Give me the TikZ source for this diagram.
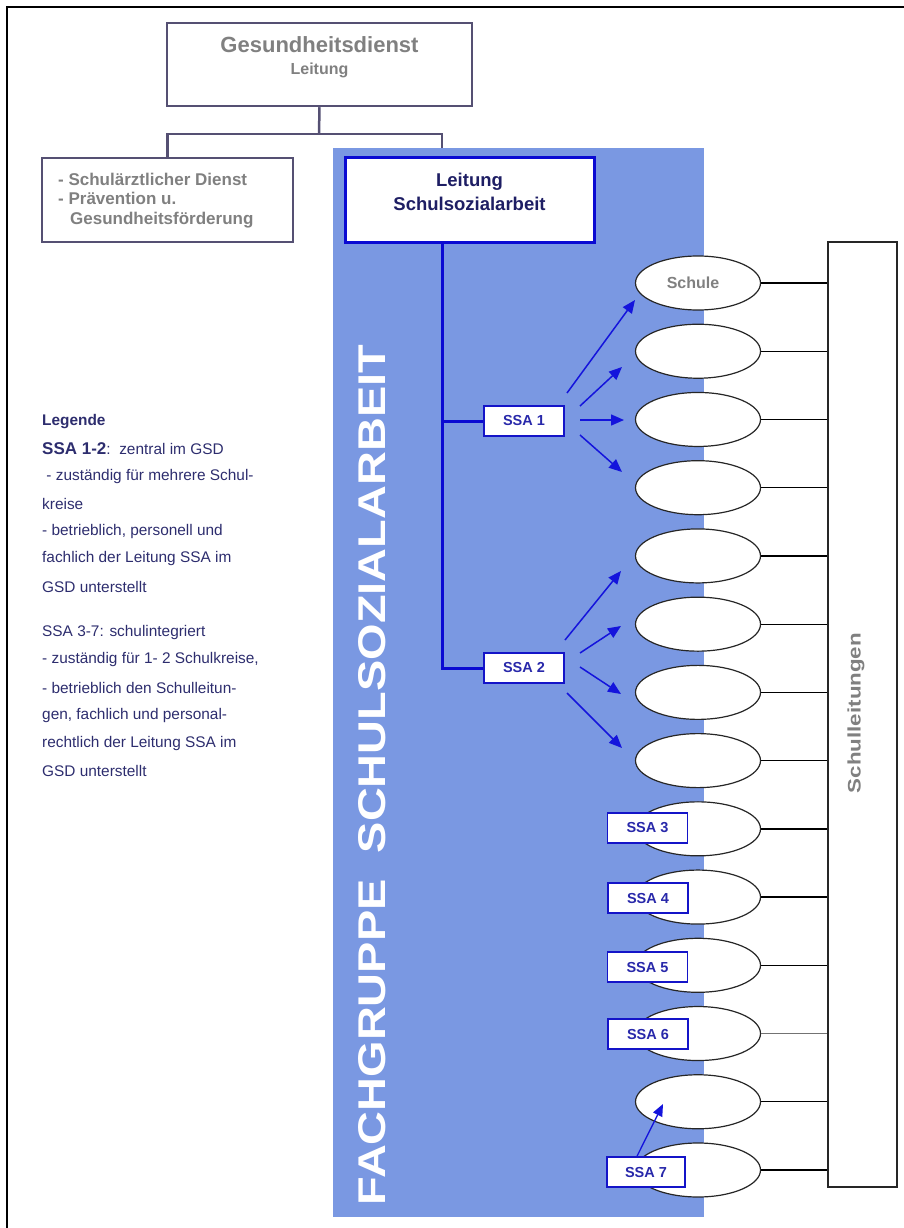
\documentclass[tikz,border=0pt]{standalone}
\usepackage{fontspec}
\setmainfont{Liberation Sans}
\usetikzlibrary{shapes.geometric,arrows.meta,calc}
\definecolor{fgblue}{RGB}{122,152,226}
\definecolor{boxgray}{RGB}{85,80,115}
\definecolor{txtgray}{RGB}{128,128,128}
\definecolor{navy}{RGB}{30,30,100}
\definecolor{ssaborder}{RGB}{20,20,200}
\definecolor{ssatext}{RGB}{40,40,170}
\definecolor{arrblue}{RGB}{20,20,220}
\definecolor{legtext}{RGB}{45,45,110}
\definecolor{trunkblue}{RGB}{10,10,210}
\begin{document}
\begin{tikzpicture}[x=1pt,y=-1pt,
  orgbox/.style={draw=boxgray, line width=2.5pt, fill=white, inner sep=0pt},
  orgline/.style={draw=boxgray, line width=2.5pt},
  grayhead/.style={text=txtgray, font=\fontsize{22}{24}\selectfont\bfseries, inner sep=0pt},
  graysub/.style={text=txtgray, font=\fontsize{16}{18}\selectfont\bfseries, inner sep=0pt},
  graylist/.style={text=txtgray, font=\fontsize{17}{19}\selectfont\bfseries, inner sep=0pt, anchor=west},
  lssabox/.style={draw=trunkblue, line width=3pt, fill=white, inner sep=0pt},
  lssatext/.style={text=navy, font=\fontsize{18.5}{21}\selectfont\bfseries, inner sep=0pt},
  trunk/.style={draw=trunkblue, line width=3pt},
  ssabox/.style={draw=ssaborder, line width=1.6pt, fill=white, minimum width=80pt, minimum height=30pt, inner sep=0pt, text=ssatext, font=\fontsize{14.5}{16}\selectfont\bfseries},
  schule/.style={ellipse, draw=black!85, line width=1.2pt, fill=white, minimum width=125pt, minimum height=54pt, inner sep=0pt},
  sline/.style={line width=1.3pt},
  ssaarrow/.style={draw=arrblue, line width=1.5pt, -{Triangle[length=13pt,width=11pt]}},
  legend/.style={text=legtext, font=\fontsize{15.4}{18}\selectfont, inner sep=0pt, anchor=west}
]
\useasboundingbox (0,0) rectangle (904,1228);

% outer frame
\draw[line width=1.5pt] (7,1228) -- (7,7) -- (904,7);

% top org boxes
\node[orgbox, minimum width=305pt, minimum height=83pt] (gd) at (319.5,64.5) {};
\node[grayhead] (gdT1) at (319.5,45) {Gesundheitsdienst};
\node[graysub] (gdT2) at (319.5,70) {Leitung};

\node[orgbox, minimum width=251pt, minimum height=84pt] (sd) at (167.5,200) {};
\node[graylist] (sdT1) at (58,179) {- Schulärztlicher Dienst};
\node[graylist] (sdT2) at (58,198) {- Prävention u.};
\node[graylist] (sdT3) at (70,220) {Gesundheitsförderung};

% blue region
\node[fill=fgblue, inner sep=0pt, minimum width=371pt, minimum height=1069pt] (fg) at (518.5,682.5) {};

% connectors top
\coordinate (jn) at (319,134);
\coordinate (fgtop) at (442,148);
\draw[orgline] (gd.south) -- (jn);
\draw[orgline] (sd.north) |- (jn) -| (fgtop);

% Leitung Schulsozialarbeit
\node[lssabox, minimum width=249pt, minimum height=85pt] (lssa) at (469.5,199.5) {};
\node[lssatext] (lssaT1) at (469.5,182) {Leitung};
\node[lssatext] (lssaT2) at (469.5,204) {Schulsozialarbeit};

% vertical label
\node[rotate=90, text=white, inner sep=0pt] (fgT) at (372,775)
  {\resizebox{860pt}{27pt}{\bfseries FACHGRUPPE\ \ SCHULSOZIALARBEIT}};

% SSA 1, 2
\node[ssabox] (ssa1) at (524,421) {SSA 1};
\node[ssabox] (ssa2) at (524,668) {SSA 2};
\coordinate (trtop) at (442,242);
\draw[trunk] (trtop) |- (ssa2.west);
\draw[trunk] (trtop |- ssa1.west) -- (ssa1.west);

% Schulleitungen box
\node[draw=black!85, line width=1.5pt, fill=white, minimum width=69pt, minimum height=945pt, inner sep=0pt] (sl) at (862.5,714.5) {};
\node[rotate=90, text=txtgray, inner sep=0pt] (slT) at (856,713)
  {\resizebox*{160pt}{17pt}{\bfseries Schulleitungen}};

% schools
\node[schule, text=txtgray, font=\fontsize{16}{18}\selectfont\bfseries] (e0) at (698,283) {\hspace*{-10pt}Schule};
\draw[sline] (e0.east) -- (e0.east -| sl.west);
\foreach \i in {1,...,13}{
  \node[schule] (e\i) at (698,{283+68.23*\i}) {};
  \ifnum\i=11
    \draw[sline, draw=black!55] (e\i.east) -- (e\i.east -| sl.west);
  \else
    \draw[sline] (e\i.east) -- (e\i.east -| sl.west);
  \fi
}

% arrows SSA 1
\coordinate (a1s) at (567,393); \coordinate (a1e) at (635,300);
\coordinate (a2s) at (580,406); \coordinate (a2e) at (622,367);
\coordinate (a3s) at (580,420); \coordinate (a3e) at (624,420);
\coordinate (a4s) at (580,435); \coordinate (a4e) at (622,472);
\draw[ssaarrow] (a1s) -- (a1e);
\draw[ssaarrow] (a2s) -- (a2e);
\draw[ssaarrow] (a3s) -- (a3e);
\draw[ssaarrow] (a4s) -- (a4e);
% arrows SSA 2
\coordinate (b1s) at (565,640); \coordinate (b1e) at (621,571);
\coordinate (b2s) at (580,653); \coordinate (b2e) at (621,626);
\coordinate (b3s) at (580,667); \coordinate (b3e) at (621,694);
\coordinate (b4s) at (567,693); \coordinate (b4e) at (622,748);
\draw[ssaarrow] (b1s) -- (b1e);
\draw[ssaarrow] (b2s) -- (b2e);
\draw[ssaarrow] (b3s) -- (b3e);
\draw[ssaarrow] (b4s) -- (b4e);

% school-integrated SSA
\node[ssabox] (ssa3) at (647.5,828) {SSA 3};
\node[ssabox] (ssa4) at (648,898) {SSA 4};
\node[ssabox] (ssa5) at (647.5,967) {SSA 5};
\node[ssabox] (ssa6) at (648,1034) {SSA 6};
\node[ssabox, minimum width=78pt] (ssa7) at (646,1172) {SSA 7};
\coordinate (c7e) at (663,1104);
\draw[ssaarrow, line width=1.3pt, -{Triangle[length=12pt,width=10pt]}] (ssa7.north -| 637,0) -- (c7e);

% legend
\node[legend, font=\fontsize{15.4}{18}\selectfont\bfseries] (l1) at (42,422) {Legende};
\node[legend] (l2) at (42,449) {{\bfseries\fontsize{17}{19}\selectfont SSA 1-2}:\ \ zentral im GSD};
\node[legend] (l3) at (42,477) {\ - zuständig für mehrere Schul-};
\node[legend] (l4) at (42,504) {kreise};
\node[legend] (l5) at (42,532) {- betrieblich, personell und};
\node[legend] (l6) at (42,559) {fachlich der Leitung SSA im};
\node[legend] (l7) at (42,587) {GSD unterstellt};
\node[legend] (l8) at (42,633) {SSA 3-7: schulintegriert};
\node[legend] (l9) at (42,660) {- zuständig für 1- 2 Schulkreise,};
\node[legend] (l10) at (42,688) {- betrieblich den Schulleitun-};
\node[legend] (l11) at (42,716) {gen, fachlich und personal-};
\node[legend] (l12) at (42,744) {rechtlich der Leitung SSA im};
\node[legend] (l13) at (42,771) {GSD unterstellt};
\end{tikzpicture}
\end{document}
